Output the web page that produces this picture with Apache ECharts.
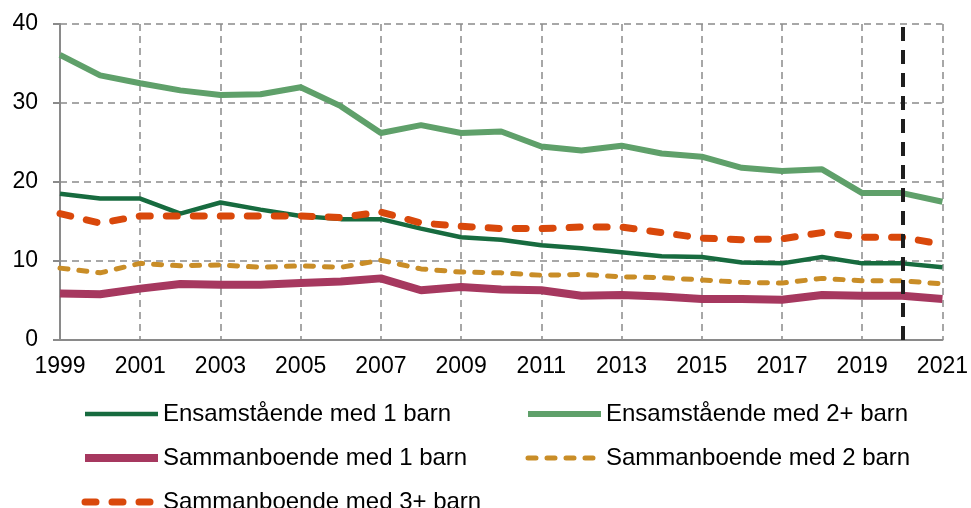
<!DOCTYPE html>
<html>
<head>
<meta charset="utf-8">
<script src="https://cdn.jsdelivr.net/npm/echarts@6/dist/echarts.min.js"></script>
<style>
  html, body { margin: 0; padding: 0; background: #fff; }
  #chart { width: 971px; height: 508px; }
</style>
</head>
<body>
<div id="chart"></div>
<script>
var years = ['1999','2000','2001','2002','2003','2004','2005','2006','2007','2008','2009','2010',
             '2011','2012','2013','2014','2015','2016','2017','2018','2019','2020','2021'];

var ensam1 = [18.5, 17.9, 17.9, 16.0, 17.4, 16.5, 15.7, 15.3, 15.3, 14.1, 13.0, 12.7,
              12.0, 11.6, 11.1, 10.6, 10.5, 9.8, 9.7, 10.5, 9.7, 9.7, 9.2];
var ensam2 = [36.1, 33.5, 32.5, 31.6, 31.0, 31.1, 32.0, 29.6, 26.2, 27.2, 26.2, 26.4,
              24.5, 24.0, 24.6, 23.6, 23.2, 21.8, 21.4, 21.6, 18.6, 18.6, 17.5];
var samman1 = [5.9, 5.8, 6.5, 7.1, 7.0, 7.0, 7.2, 7.4, 7.8, 6.3, 6.7, 6.4,
               6.3, 5.6, 5.7, 5.5, 5.2, 5.2, 5.1, 5.7, 5.6, 5.6, 5.2];
var samman2 = [9.1, 8.5, 9.7, 9.4, 9.5, 9.2, 9.4, 9.2, 10.1, 9.0, 8.6, 8.5,
               8.2, 8.3, 8.0, 7.9, 7.6, 7.3, 7.2, 7.8, 7.5, 7.5, 7.1];
var samman3 = [16.0, 14.8, 15.7, 15.7, 15.7, 15.7, 15.7, 15.5, 16.2, 14.8, 14.4, 14.1,
               14.1, 14.3, 14.3, 13.6, 12.9, 12.7, 12.8, 13.6, 13.0, 13.0, 12.1];

var markYear = '2020';

var names = ['Ensamstående med 1 barn', 'Ensamstående med 2+ barn', 'Sammanboende med 1 barn',
             'Sammanboende med 2 barn', 'Sammanboende med 3+ barn'];

var font = 'Liberation Sans, Arial, sans-serif';
var gridGray = '#8a8a8a';

var myChart = echarts.init(document.getElementById('chart'));

// two legend columns, stacked vertically
var legendCol = function (left, data) {
    return {
        orient: 'vertical',
        left: left,
        top: 402,
        height: 160,
        padding: 0,
        itemWidth: 73,
        itemHeight: 14,
        itemGap: 20,
        data: data,
        itemStyle: { opacity: 0, borderWidth: 0 },
        lineStyle: { width: 'inherit', type: 'inherit', cap: 'inherit' },
        textStyle: { fontSize: 24, color: '#000', fontFamily: font }
    };
};

var option = {
    animation: false,
    textStyle: { fontFamily: font },
    grid: { left: 60, right: 25, top: 24, bottom: 168 },
    legend: [
        legendCol(81, [names[0], names[2], names[4]]),
        legendCol(525, [names[1], names[3]])
    ],
    xAxis: {
        type: 'category',
        data: years,
        boundaryGap: false,
        axisLine: { lineStyle: { color: gridGray, width: 2 } },
        axisTick: { show: false },
        axisLabel: { interval: 1, fontSize: 23, color: '#000', margin: 15, fontFamily: font },
        splitLine: {
            show: true,
            interval: 1,
            lineStyle: { color: gridGray, width: 1.5, type: [7, 5] }
        }
    },
    yAxis: {
        type: 'value',
        min: 0,
        max: 40,
        interval: 10,
        axisLine: { show: true, lineStyle: { color: gridGray, width: 2 } },
        axisTick: { show: true, length: 7, lineStyle: { color: gridGray, width: 2 } },
        axisLabel: { fontSize: 23, color: '#000', margin: 22, fontFamily: font },
        splitLine: { lineStyle: { color: gridGray, width: 1.5, type: [7, 5] } }
    },
    series: [
        {
            name: names[0], type: 'line', data: ensam1, symbol: 'none',
            itemStyle: { color: '#176b3f' },
            lineStyle: { color: '#176b3f', width: 4.5 },
            z: 3
        },
        {
            name: names[1], type: 'line', data: ensam2, symbol: 'none',
            itemStyle: { color: '#5fa06a' },
            lineStyle: { color: '#5fa06a', width: 6 },
            z: 3,
            markLine: {
                silent: true,
                symbol: 'none',
                label: { show: false },
                lineStyle: { color: '#1e1e1e', width: 4, type: [14, 9] },
                data: [{ xAxis: markYear }]
            }
        },
        {
            name: names[2], type: 'line', data: samman1, symbol: 'none',
            itemStyle: { color: '#a6385f' },
            lineStyle: { color: '#a6385f', width: 8 },
            z: 2
        },
        {
            name: names[3], type: 'line', data: samman2, symbol: 'none',
            itemStyle: { color: '#c98d27' },
            lineStyle: { color: '#c98d27', width: 5, type: [8, 11], cap: 'round' },
            z: 3
        },
        {
            name: names[4], type: 'line', data: samman3, symbol: 'none',
            itemStyle: { color: '#d9480b' },
            lineStyle: { color: '#d9480b', width: 7, type: [11, 16], cap: 'round' },
            z: 4
        }
    ]
};

myChart.setOption(option);
</script>
</body>
</html>
